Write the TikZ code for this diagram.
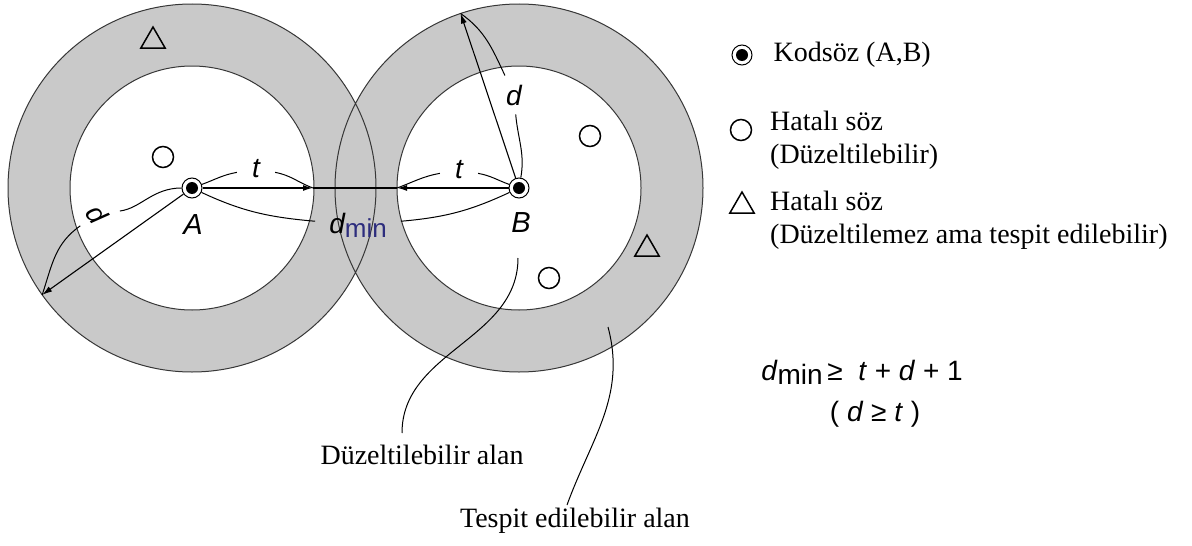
\documentclass[tikz,border=0pt]{standalone}
\usepackage{fontspec}
\setmainfont{Liberation Serif}
\setsansfont{Liberation Sans}
\usepackage{tikz}
\usetikzlibrary{arrows.meta, positioning, shapes.geometric, calc}
\definecolor{ringGray}{RGB}{201,201,201}
\definecolor{edgeGray}{RGB}{55,55,55}
\definecolor{subNavy}{RGB}{45,45,125}
\tikzstyle{codeword} = [circle, draw, line width=1pt, minimum size=20pt, inner sep=0pt,
  path picture={\fill (path picture bounding box.center) circle (6pt);}]
\tikzstyle{errcirc} = [circle, draw, line width=1.5pt, minimum size=21pt, inner sep=0pt]
\tikzstyle{errtri} = [regular polygon, regular polygon sides=3, draw, line width=1.5pt,
  minimum size=28pt, inner sep=0pt]
\tikzstyle{dimlbl} = [font=\sffamily\itshape\fontsize{28}{28}\selectfont, inner sep=0pt]
\tikzstyle{legtxt} = [font=\fontsize{28}{33}\selectfont, align=left, anchor=west, inner sep=0pt]
\tikzstyle{eqtxt} = [font=\sffamily\fontsize{28}{28}\selectfont, inner sep=0pt]
\tikzstyle{arw} = [-{Latex[length=10pt,width=6pt]}, line width=1.6pt]
\tikzstyle{dimarc} = [line width=1pt]

\begin{document}
\begin{tikzpicture}[x=1pt, y=1pt]
  \useasboundingbox (0,0) rectangle (1192,-546);

  % Rings
  \coordinate (cA) at (192,-188);
  \coordinate (cB) at (519,-188);
  \fill[ringGray] (cA) circle (184pt) (cB) circle (184pt);
  \fill[white] (cA) circle (122pt) (cB) circle (122pt);
  \draw[edgeGray, line width=1pt] (cA) circle (184pt) (cA) circle (122pt)
    (cB) circle (184pt) (cB) circle (122pt);

  % Codewords
  \node[codeword] (A) at (cA) {};
  \node[codeword] (B) at (cB) {};
  \node[dimlbl, font=\sffamily\itshape\fontsize{29}{29}\selectfont] (labA) at (193,-225) {A};
  \node[dimlbl, font=\sffamily\itshape\fontsize{29}{29}\selectfont] (labB) at (521,-223) {B};

  % Erroneous words
  \node[errtri] (triA) at (153,-41) {};
  \node[errtri] (triB) at (647,-249) {};
  \node[errcirc] (errA) at (163,-157) {};
  \node[errcirc] (errB1) at (590,-136) {};
  \node[errcirc] (errB2) at (549,-278) {};

  % Radii t and d
  \coordinate (tA) at (313,-188);
  \coordinate (tB) at (397,-188);
  \coordinate (dAtip) at ($(cA)+(215.5:184pt)$);
  \coordinate (dBtip) at ($(cB)+(108.5:184pt)$);
  \draw[arw] (A) -- (tA);
  \draw[arw] (B) -- (tB);
  \draw[line width=1.6pt] (tA) -- (tB);
  \draw[arw, line width=1.1pt] (A) -- (dAtip);
  \draw[arw, line width=1.1pt] (B) -- (dBtip);

  % Dimension arcs
  \node[dimlbl, inner xsep=15pt, inner ysep=3pt] (tlA) at (256,-169) {t};
  \draw[dimarc] (A) to[out=20,in=190] (tlA);
  \draw[dimarc] (tlA) to[out=-10,in=160] (tA);
  \node[dimlbl, inner xsep=15pt, inner ysep=3pt] (tlB) at (459,-170) {t};
  \draw[dimarc] (tB) to[out=20,in=190] (tlB);
  \draw[dimarc] (tlB) to[out=-10,in=160] (B);

  \node[dimlbl, rotate=-55, inner sep=10pt] (dlA) at (97,-214) {d};
  \draw[dimarc] (A) to[out=180,in=30] (dlA);
  \draw[dimarc] (dlA) to[out=238,in=72] (dAtip);
  \node[dimlbl, inner xsep=6pt, inner ysep=9pt] (dlB) at (514,-95) {d};
  \draw[dimarc] (dBtip) to[out=-35,in=115] (dlB);
  \draw[dimarc] (dlB) to[out=-85,in=80] (B);

  \node[dimlbl, inner xsep=14pt, inner ysep=4pt] (dml) at (358,-225)
    {d{\upshape\color{subNavy}\raisebox{-4pt}{\fontsize{26}{26}\selectfont min}}};
  \draw[dimarc] (A) to[out=-25,in=175] (dml);
  \draw[dimarc] (dml) to[out=5,in=-155] (B);

  % Area labels
  \coordinate (dzStart) at (518,-258);
  \coordinate (dzEnd) at (402,-433);
  \node[legtxt, anchor=center] (dzl) at (422,-455) {Düzeltilebilir alan};
  \draw[dimarc] (dzStart) to[out=-90,in=90] (dzEnd);
  \coordinate (tsStart) at (608,-327);
  \coordinate (tsEnd) at (567,-505);
  \node[legtxt, anchor=center] (tsl) at (575,-521) {Tespit edilebilir alan};
  \draw[dimarc] (tsStart) to[out=-75,in=70] (tsEnd);

  % Legend
  \node[codeword] (legKod) at (742,-55) {};
  \node[legtxt, right=21pt of legKod] (kodTxt) {Kodsöz (A,B)};
  \node[errcirc] (legErr) at (741,-130) {};
  \node[legtxt] (errTxt) at (770,-140) {Hatalı söz\\(Düzeltilebilir)};
  \node[errtri] (legTri) at (742,-206) {};
  \node[legtxt] (triTxt) at (770,-220) {Hatalı söz\\(Düzeltilemez ama tespit edilebilir)};

  % Bound
  \node[eqtxt] (bound) at (862,-372)
    {\textit{d}\raisebox{-4pt}{min}\,≥\ \ \textit{t} + \textit{d} + 1};
  \node[eqtxt] (cond) at (875,-414) {(\ \textit{d} ≥ \textit{t}\ )};
\end{tikzpicture}
\end{document}
